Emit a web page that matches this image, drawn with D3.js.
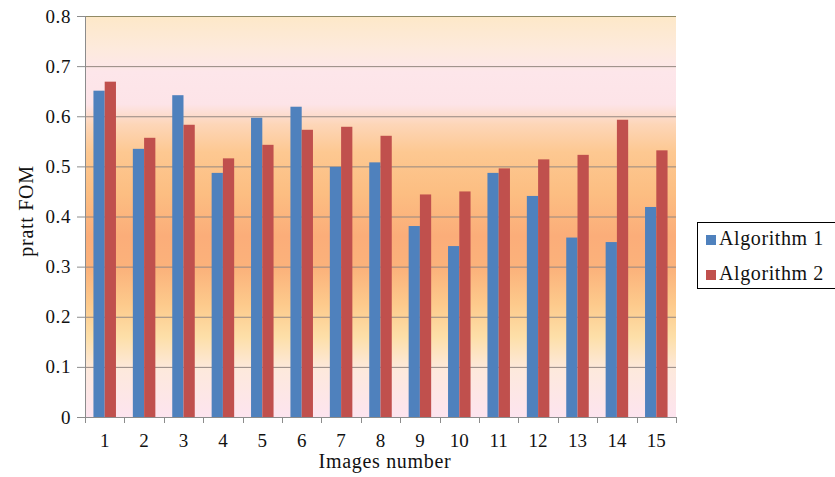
<!DOCTYPE html>
<html>
<head>
<meta charset="utf-8">
<script src="https://cdn.jsdelivr.net/npm/d3@7"></script>
<style>
  html, body { margin: 0; padding: 0; background: #ffffff; }
  svg { display: block; }
  text { font-family: "Liberation Serif", "DejaVu Serif", serif; fill: #111111; }
</style>
</head>
<body>
<svg id="chart" width="835" height="477"></svg>
<script>
// Image numbers along the x axis
const images = ["1","2","3","4","5","6","7","8","9","10","11","12","13","14","15"];
// Pratt figure of merit for each image
const algorithm1 = [0.651,0.535,0.642,0.487,0.597,0.619,0.499,0.508,0.381,0.341,0.487,0.441,0.358,0.349,0.419];
const algorithm2 = [0.669,0.557,0.583,0.516,0.543,0.573,0.579,0.561,0.444,0.450,0.496,0.514,0.523,0.593,0.532];
const seriesNames = ["Algorithm 1","Algorithm 2"];
const yTicks = [0,0.1,0.2,0.3,0.4,0.5,0.6,0.7,0.8];

const colors = { "Algorithm 1": "#4f81bd", "Algorithm 2": "#c0504d" };
const seriesData = { "Algorithm 1": algorithm1, "Algorithm 2": algorithm2 };
const FONT = "Liberation Serif, DejaVu Serif, serif";

const svg = d3.select("#chart");
const plot = { left: 85, right: 676, top: 16, bottom: 417 };

const x = d3.scaleBand().domain(images).range([plot.left, plot.right]).paddingInner(0).paddingOuter(0);
const xs = d3.scaleBand().domain(seriesNames).range([0, x.bandwidth()]).paddingInner(0).paddingOuter(0.75);
const y = d3.scaleLinear().domain([0, 0.8]).range([plot.bottom, plot.top]);

// Plot-area background gradient
const defs = svg.append("defs");
const grad = defs.append("linearGradient").attr("id", "bg")
  .attr("x1", 0).attr("y1", 0).attr("x2", 0).attr("y2", 1);
[
  [0.00, "#fde8c8"], [0.08, "#fdeadc"], [0.14, "#fde6ea"], [0.22, "#fde4e8"],
  [0.27, "#fdd6b8"], [0.34, "#fdc891"], [0.44, "#fcbe82"], [0.55, "#fbad79"],
  [0.63, "#fbb27b"], [0.72, "#fdca8c"], [0.80, "#fddfa8"], [0.88, "#fde9dc"],
  [1.00, "#fde4ef"]
].forEach(([o, c]) => grad.append("stop").attr("offset", o).attr("stop-color", c));

svg.append("rect")
  .attr("x", plot.left).attr("y", plot.top)
  .attr("width", plot.right - plot.left).attr("height", plot.bottom - plot.top)
  .attr("fill", "url(#bg)");

// Horizontal gridlines
svg.append("g").selectAll("line").data(yTicks.filter(t => t > 0)).join("line")
  .attr("x1", plot.left).attr("x2", plot.right)
  .attr("y1", d => y(d) + 0.5).attr("y2", d => y(d) + 0.5)
  .attr("stroke", d => d === 0.8 ? "#918a64" : "#948781").attr("stroke-width", 1);

// Bars
const groups = svg.append("g").selectAll("g").data(images).join("g")
  .attr("transform", d => `translate(${x(d)},0)`);
groups.selectAll("rect")
  .data((d, i) => seriesNames.map(s => ({ s, v: seriesData[s][i] })))
  .join("rect")
  .attr("x", d => xs(d.s))
  .attr("width", xs.bandwidth())
  .attr("y", d => y(d.v))
  .attr("height", d => y(0) - y(d.v))
  .attr("fill", d => colors[d.s]);

// Y axis
const yAxis = svg.append("g").attr("transform", `translate(${plot.left},0)`)
  .call(d3.axisLeft(y).tickValues(yTicks).tickFormat(d => d === 0 ? "0" : d3.format(".1f")(d)).tickSize(8).tickPadding(6));
yAxis.select(".domain").attr("stroke", "#8c8c8c").attr("d", `M0.5,${plot.top}V${plot.bottom}`);
yAxis.selectAll(".tick line").attr("stroke", "#8c8c8c");
yAxis.selectAll(".tick text").attr("font-size", 19).attr("font-family", FONT).attr("fill", "#111111")
  .attr("letter-spacing", 0.6);

// X axis with tick marks on category boundaries
const xAxis = svg.append("g").attr("transform", `translate(0,${plot.bottom})`);
xAxis.append("line").attr("x1", plot.left).attr("x2", plot.right).attr("y1", 0.5).attr("y2", 0.5).attr("stroke", "#8c8c8c");
const bounds = images.map(d => x(d)).concat([plot.right]);
xAxis.selectAll("line.tk").data(bounds).join("line").attr("class", "tk")
  .attr("x1", d => Math.round(d) + 0.5).attr("x2", d => Math.round(d) + 0.5)
  .attr("y1", 0).attr("y2", 6).attr("stroke", "#8c8c8c");
xAxis.selectAll("text").data(images).join("text")
  .attr("x", d => x(d) + x.bandwidth() / 2).attr("y", 30)
  .attr("text-anchor", "middle").attr("font-size", 19).text(d => d);

// Axis titles
svg.append("text").attr("x", 385).attr("y", 468).attr("text-anchor", "middle")
  .attr("font-size", 20).attr("letter-spacing", 0.7).text("Images number");
svg.append("text").attr("transform", "translate(33,211) rotate(-90)")
  .attr("text-anchor", "middle").attr("font-size", 20).attr("letter-spacing", 0.7).text("pratt FOM");

// Legend
const legend = svg.append("g");
legend.append("rect").attr("x", 697.5).attr("y", 222.5).attr("width", 145).attr("height", 66)
  .attr("fill", "#ffffff").attr("stroke", "#000000").attr("stroke-width", 1);
seriesNames.forEach((s, i) => {
  legend.append("rect").attr("x", 706).attr("y", 235 + i * 35).attr("width", 10).attr("height", 10)
    .attr("fill", colors[s]);
  legend.append("text").attr("x", 719).attr("y", 245 + i * 35).attr("font-size", 20)
    .attr("letter-spacing", 0.6).text(s);
});
</script>
</body>
</html>
